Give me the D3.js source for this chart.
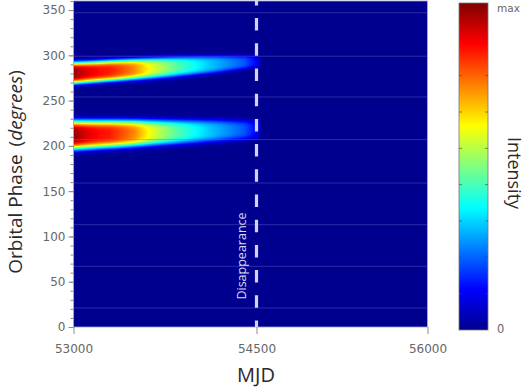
<!DOCTYPE html>
<html><head><meta charset="utf-8">
<script src="https://cdn.jsdelivr.net/npm/d3@7"></script>
<style>html,body{margin:0;padding:0;background:#fff;} svg{display:block;}</style>
</head><body>
<svg id="chart" width="528" height="389"></svg>
<script>
// ---- data ----
const mjdSamples  = [53000,53100,53200,53300,53400,53500,53600,53700,53800,53900,54000,54100,54200,54300,54400,54500,54550];
const upperCenter = [280.5,281.3,282.1,283.0,283.8,284.6,285.4,286.2,287.0,287.9,288.7,289.5,290.4,291.3,292.2,293.0,293.4];
const upperWidth  = [11.8,11.7,11.6,11.5,11.4,11.3,11.2,11.1,11.0,10.7,10.3,9.9,9.3,8.4,7.6,7.0,6.8];
const upperPeak   = [0.98,0.91,0.87,0.85,0.80,0.74,0.64,0.56,0.49,0.43,0.38,0.33,0.29,0.25,0.21,0.12,0];
const lowerCenter = [212.0,212.4,212.8,213.2,213.6,214.0,214.4,214.8,215.2,215.6,216.0,216.4,216.8,217.2,217.6,218.0,218.2];
const lowerWidth  = [15.8,15.6,15.3,15.0,14.7,14.4,14.1,13.8,13.5,13.2,12.9,12.5,12.1,11.5,10.9,10.4,10.2];
const lowerPeak   = [0.98,0.91,0.87,0.85,0.80,0.74,0.64,0.56,0.49,0.43,0.38,0.33,0.29,0.25,0.21,0.12,0];
const xTicks = [53000,54500,56000];
const xTickPixels = [73.5,256.5,427.5];
const yTicks = [0,50,100,150,200,250,300,350];
const yMinorTicks = d3.range(0,361,10);
const gridPhases = [21,67,113,159,207,254,299,347];
const disappearanceMJD = 54500;
const jetStops  = [0,0.125,0.375,0.625,0.875,1];
const jetColors = ["#00008f","#0000ff","#00ffff","#ffff00","#ff0000","#800000"];
const colorbarTicks = [1,2,3,4,5,6,7,8].map(i=>i/9);

// ---- layout ----
const svg = d3.select("#chart");
const plotTop = 1, plotBottom = 327;
const x = d3.scaleLinear().domain(xTicks).range(xTickPixels);
const y = d3.scaleLinear().domain([0,360]).range([plotBottom, plotTop]);
const jet = d3.scaleLinear().domain(jetStops).range(jetColors).interpolate(d3.interpolateRgb).clamp(true);

const sc = arr => d3.scaleLinear().domain(mjdSamples).range(arr).clamp(true);
const bands = [
  {c: sc(upperCenter), w: sc(upperWidth), a: sc(upperPeak)},
  {c: sc(lowerCenter), w: sc(lowerWidth), a: sc(lowerPeak)}
];

const x0 = x.range()[0], x1 = x.range()[x.range().length-1];
const W = Math.round(x1 - x0), H = Math.round(plotBottom - plotTop);
const canvas = document.createElement("canvas");
canvas.width = W; canvas.height = H;
const ctx = canvas.getContext("2d");
const img = ctx.createImageData(W, H);
const lastMJD = mjdSamples[mjdSamples.length-1];
for (let i = 0; i < W; i++) {
  const m = x.invert(x0 + i + 0.5);
  const params = bands.map(b => ({c: b.c(m), w: b.w(m), a: m > lastMJD ? 0 : b.a(m)}));
  for (let j = 0; j < H; j++) {
    const p = y.invert(plotTop + j + 0.5);
    let v = 0;
    for (const b of params) {
      const u = (p - b.c) / b.w;
      v = Math.max(v, b.a * Math.exp(-(u*u*u*u)));
    }
    v = Math.min(1, v);
    const col = d3.rgb(jet(v));
    const k = (j*W + i)*4;
    img.data[k] = col.r; img.data[k+1] = col.g; img.data[k+2] = col.b; img.data[k+3] = 255;
  }
}
ctx.putImageData(img, 0, 0);

const defs = svg.append("defs");
const clip = defs.append("clipPath").attr("id","plotclip");
clip.append("rect").attr("x", x0).attr("y", plotTop).attr("width", W).attr("height", H);
defs.append("filter").attr("id","soft").attr("x",-0.05).attr("y",-0.05).attr("width",1.1).attr("height",1.1)
  .append("feGaussianBlur").attr("stdDeviation",0.7);

svg.append("g").attr("clip-path","url(#plotclip)")
  .append("image")
  .attr("x", x0).attr("y", plotTop).attr("width", W).attr("height", H)
  .attr("preserveAspectRatio","none")
  .attr("filter","url(#soft)")
  .attr("href", canvas.toDataURL());

// faint gridlines
svg.append("g").selectAll("line").data(gridPhases).join("line")
  .attr("x1", x0).attr("x2", x1)
  .attr("y1", d => y(d)).attr("y2", d => y(d))
  .attr("stroke", "#6a6ad0").attr("stroke-opacity", 0.4).attr("stroke-width", 1);

// plot border
svg.append("rect").attr("x", x0).attr("y", plotTop).attr("width", W).attr("height", H)
  .attr("fill","none").attr("stroke","#9a9ad8").attr("stroke-width",0.8);

// disappearance dashed line
svg.append("line")
  .attr("x1", x(disappearanceMJD)).attr("x2", x(disappearanceMJD))
  .attr("y1", plotTop).attr("y2", plotBottom)
  .attr("stroke", "#d2d2f0").attr("stroke-width", 3.2)
  .attr("stroke-dasharray", "12.5,12.7").attr("stroke-dashoffset", 8.1);

svg.append("text")
  .attr("transform", `translate(${x(disappearanceMJD)-11},256) rotate(-90)`)
  .attr("text-anchor","middle")
  .attr("font-family","Open Sans").attr("font-size",12.5)
  .attr("fill","#dcdcf2").text("Disappearance");

// axes
const styleAxis = g => {
  g.select(".domain").remove();
  g.selectAll(".tick line").attr("stroke","#8a8a8a");
  g.selectAll(".tick text").attr("fill","#666").attr("font-family","DejaVu Sans").attr("font-size",12);
};
svg.append("g").attr("transform",`translate(${x0},0)`)
  .call(d3.axisLeft(y).tickValues(yMinorTicks).tickSize(3).tickFormat(""))
  .call(styleAxis);
svg.append("g").attr("transform",`translate(${x0},0)`)
  .call(d3.axisLeft(y).tickValues(yTicks).tickSize(5).tickPadding(3).tickFormat(d3.format("d")))
  .call(styleAxis);
svg.append("g").attr("transform",`translate(0,${plotBottom})`)
  .call(d3.axisBottom(x).tickValues(xTicks).tickSize(7).tickPadding(10).tickFormat(d3.format("d")))
  .call(styleAxis);

// axis titles
svg.append("text").attr("x", 256).attr("y", 382).attr("text-anchor","middle")
  .attr("font-family","Open Sans").attr("font-size",20).attr("fill","#2a2a2a").text("MJD");

const yl = svg.append("text").attr("transform","translate(22,172) rotate(-90)")
  .attr("text-anchor","middle").attr("font-family","Open Sans").attr("font-size",19).attr("fill","#2a2a2a");
yl.append("tspan").text("Orbital Phase");
yl.append("tspan").attr("dx",8).text("(");
yl.append("tspan").attr("font-style","italic").text("degrees");
yl.append("tspan").text(")");

// colorbar
const cbX = 459, cbW = 29, cbTop = 3, cbBottom = 330;
const cb = d3.scaleLinear().domain([0,1]).range([cbBottom, cbTop]);
const grad = defs.append("linearGradient").attr("id","jetgrad")
  .attr("x1",0).attr("y1",1).attr("x2",0).attr("y2",0);
grad.selectAll("stop").data(d3.range(0,1.0001,0.025)).join("stop")
  .attr("offset", d => d).attr("stop-color", d => jet(d));
svg.append("rect").attr("x", cbX).attr("y", cbTop).attr("width", cbW).attr("height", cbBottom-cbTop)
  .attr("fill","url(#jetgrad)").attr("stroke","#777").attr("stroke-width",0.8);
const cbt = svg.append("g").selectAll("g").data(colorbarTicks).join("g");
cbt.append("line").attr("x1", cbX).attr("x2", cbX+3).attr("y1", d=>cb(d)).attr("y2", d=>cb(d)).attr("stroke","#444").attr("stroke-opacity",0.6);
cbt.append("line").attr("x1", cbX+cbW-3).attr("x2", cbX+cbW).attr("y1", d=>cb(d)).attr("y2", d=>cb(d)).attr("stroke","#444").attr("stroke-opacity",0.6);

svg.append("text").attr("x", 497).attr("y", cb(1)+9).attr("font-family","DejaVu Sans").attr("font-size",10.5).attr("fill","#666").text("max");
svg.append("text").attr("x", 497).attr("y", cb(0)+3).attr("font-family","DejaVu Sans").attr("font-size",11.5).attr("fill","#666").text("0");
svg.append("text").attr("transform","translate(508,173) rotate(90)").attr("text-anchor","middle")
  .attr("font-family","Open Sans").attr("font-size",18).attr("fill","#2a2a2a").text("Intensity");
</script>
</body></html>
